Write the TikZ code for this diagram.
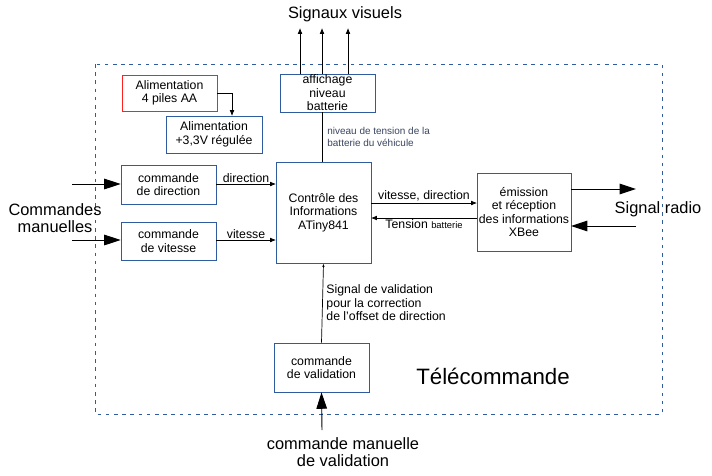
\documentclass[tikz,border=0pt]{standalone}
\usepackage{fontspec}
\setmainfont{Liberation Sans}
\usetikzlibrary{arrows.meta}
\definecolor{boxblue}{HTML}{2E5C9E}
\definecolor{notegray}{HTML}{3A4560}
\definecolor{boxred}{HTML}{FF2020}
\tikzset{
  block/.style={draw=boxblue, semithick, rectangle, align=center, font=\fontsize{10.5}{11.5}\selectfont},
  flow/.style={-{Latex[length=5pt,width=4pt]}, semithick},
  bigflow/.style={-{Triangle[length=14pt,width=9pt]}, thick},
  note/.style={font=\fontsize{10.5}{11.5}\selectfont, inner sep=1pt},
  small/.style={font=\fontsize{8.5}{10}\selectfont, text=notegray, align=left, inner sep=1pt}
}
\begin{document}
\begin{tikzpicture}[x=0.03cm, y=-0.03cm]
	\useasboundingbox (0,0) rectangle (712,475);

	% frame
	\draw [boxblue, dash pattern=on 3pt off 4pt, thick] (95,64) rectangle (662,414);
	\node[font=\fontsize{19}{22}\selectfont] (titre) at (493,376) {Télécommande};

	% blocks
	\node[block, draw=boxred, thick, minimum width=95*0.03cm, minimum height=36*0.03cm] (piles) at (169.5,93) {Alimentation\\4 piles AA};
	\node[block, minimum width=96*0.03cm, minimum height=37*0.03cm] (regul) at (214,134.5) {Alimentation\\+3,3V régulée};
	\node[block, minimum width=95*0.03cm, minimum height=38*0.03cm, inner sep=0pt] (affich) at (327.5,93) {affichage\\niveau\\batterie};
	\node[block, minimum width=95*0.03cm, minimum height=101*0.03cm] (ctrl) at (323.5,212.5) {Contrôle des\\Informations\\ATiny841};
	\node[block, minimum width=95*0.03cm, minimum height=39*0.03cm] (dir) at (168.5,184.5) {commande\\de direction};
	\node[block, minimum width=95*0.03cm, minimum height=38*0.03cm] (vit) at (168.5,241) {commande\\de vitesse};
	\node[block, minimum width=94*0.03cm, minimum height=78*0.03cm, inner sep=0pt] (xbee) at (524,212) {émission\\et réception\\des informations\\XBee};
	\node[block, minimum width=95*0.03cm, minimum height=49*0.03cm] (valid) at (321.5,367.5) {commande\\de validation};

	% outer labels
	\node[font=\fontsize{14}{16}\selectfont] (visu) at (345,14) {Signaux visuels};
	\node[font=\fontsize{14}{15}\selectfont, align=center] (manu) at (55,218) {Commandes\\manuelles};
	\node[font=\fontsize{14}{16}\selectfont] (radio) at (658,209) {Signal radio};
	\node[font=\fontsize{14}{15}\selectfont, align=center] (manval) at (343,452) {commande manuelle\\de validation};

	\coordinate (inDir) at (72,184);
	\coordinate (inVit) at (72,240);
	\coordinate (outR) at (636,189);
	\coordinate (inR) at (636,226);
	\coordinate (inVal) at (322,430);

	% connectors
	\draw[flow] (piles.east) -| (232,116);
	\foreach \x in {300,322,348}
		\draw[flow] (\x,74) -- (\x,28);
	\draw[semithick] (322,112) -- (322,162);
	\node[small, anchor=west] (niv) at (326,137) {niveau de tension de la\\batterie du véhicule};

	\draw[bigflow] (inDir) -- (dir.west |- inDir);
	\draw[bigflow] (inVit) -- (vit.west |- inVit);
	\draw[flow] (216,184) -- node[note, above] {direction} (276,184);
	\draw[flow] (216,240) -- node[note, above] {vitesse} (276,240);

	\draw[flow] (371,203) -- node[note, above] {vitesse, direction} (477,203);
	\draw[flow] (477,218) -- node[note, below] {Tension {\fontsize{8}{9}\selectfont batterie}} (371,218);
	\draw[bigflow] (571,189) -- (outR);
	\draw[bigflow] (inR) -- (571,226);

	\draw[-{Latex[length=3pt,width=2pt]}, semithick] (valid.north) -- (ctrl.south);
	\node[note, align=left, anchor=west] (sigval) at (325,303) {Signal de validation\\pour la correction\\de l'offset de direction};
	\draw[bigflow] (inVal) -- (valid.south);
\end{tikzpicture}
\end{document}
